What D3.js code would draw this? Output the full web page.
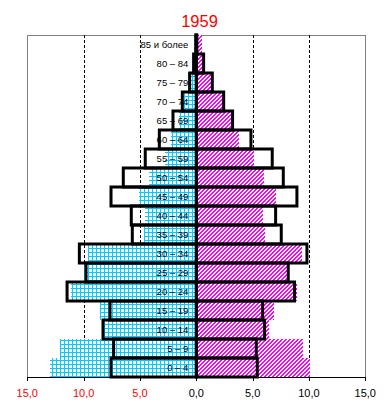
<!DOCTYPE html>
<html><head><meta charset="utf-8">
<script src="https://cdn.jsdelivr.net/npm/d3@7"></script>
<style>body{margin:0;background:#fff}svg{display:block}</style>
</head><body><svg id="c" width="392" height="414"></svg>
<script>
const ages = ["0 – 4","5 – 9","10 – 14","15 – 19","20 – 24","25 – 29","30 – 34","35 – 39","40 – 44","45 – 49","50 – 54","55 – 59","60 – 64","65 – 69","70 – 74","75 – 79","80 – 84","85 и более"];
const left1959  = [12.95,12.07,8.2,8.58,11.09,10.0,9.64,4.67,4.53,5.13,4.17,2.81,2.22,1.5,1.18,0.7,0.3,0.2];
const right1959 = [10.1,9.49,6.48,6.92,8.93,8.05,9.41,6.12,5.95,7.04,5.97,5.15,3.82,3.17,2.37,1.33,0.7,0.53];
const leftOutline  = [7.57,7.34,8.28,7.66,11.47,9.79,10.38,5.68,5.77,7.57,6.48,4.53,3.28,2.07,1.24,0.59,0.24,0.05];
const rightOutline = [5.41,5.32,6.06,5.89,8.72,8.16,9.82,7.54,7.04,8.93,7.72,6.74,4.85,3.22,2.43,1.42,0.65,0.05];
const ticks = [-15,-10,-5,0,5,10,15];
const tickLabels = ["15,0","10,0","5,0","0,0","5,0","10,0","15,0"];
const grid = [-10,-5,5,10];
const title = "1959";

const svg = d3.select("#c");
const L = 27.3, R = 365.3, T = 35, B = 377;
const x = d3.scaleLinear().domain([-15,15]).range([L,R]);
const y = d3.scaleBand().domain(ages.slice().reverse()).range([T,B]).padding(0);

const defs = svg.append("defs");
const pg = defs.append("pattern").attr("id","cy").attr("patternUnits","userSpaceOnUse")
  .attr("width",4).attr("height",4);
pg.append("rect").attr("width",4).attr("height",4).attr("fill","#fff");
pg.append("rect").attr("x",0).attr("y",0).attr("width",4).attr("height",1).attr("fill","#00CCFF");
pg.append("rect").attr("x",0).attr("y",0).attr("width",1).attr("height",4).attr("fill","#00CCFF");
const pm = defs.append("pattern").attr("id","mg").attr("patternUnits","userSpaceOnUse")
  .attr("width",4).attr("height",4);
pm.append("rect").attr("width",4).attr("height",4).attr("fill","#fff");
for (let i=0;i<4;i++) for (let j=0;j<4;j++) {
  if ((i+j)%4===0 || (i+j)%4===1) pm.append("rect").attr("x",i).attr("y",j).attr("width",1).attr("height",1).attr("fill","#FF00FF");
}

svg.append("text").attr("x",199.5).attr("y",26.5).attr("text-anchor","middle")
  .attr("font-family","Liberation Sans, Arial, sans-serif").attr("font-size",16.5).attr("fill","#FF0000").text(title);

// frame
svg.append("path").attr("d",`M${L},${B}V${T}H${R}V${B}`).attr("fill","none").attr("stroke","#808080").attr("stroke-width",1).attr("shape-rendering","crispEdges");

// gridlines
svg.append("g").selectAll("line").data(grid).join("line")
  .attr("x1",d=>Math.round(x(d))+0.5).attr("x2",d=>Math.round(x(d))+0.5)
  .attr("y1",T).attr("y2",B).attr("stroke","#000").attr("stroke-dasharray","3,2").attr("stroke-width",1);

const idx = d3.range(ages.length);
// pattern bars
svg.append("g").attr("shape-rendering","crispEdges").selectAll("rect").data(idx).join("rect")
  .attr("x",i=>x(-left1959[i])).attr("width",i=>x(0)-x(-left1959[i]))
  .attr("y",i=>y(ages[i])).attr("height",y.bandwidth()).attr("fill","url(#cy)");
svg.append("g").attr("shape-rendering","crispEdges").selectAll("rect").data(idx).join("rect")
  .attr("x",x(0)).attr("width",i=>x(right1959[i])-x(0))
  .attr("y",i=>y(ages[i])).attr("height",y.bandwidth()).attr("fill","url(#mg)");

// outline bars
const og = svg.append("g").attr("fill","none").attr("stroke","#000").attr("stroke-width",3);
og.selectAll("rect.l").data(idx).join("rect").attr("class","l")
  .attr("x",i=>x(-leftOutline[i])).attr("width",i=>x(0)-x(-leftOutline[i]))
  .attr("y",i=>y(ages[i])).attr("height",y.bandwidth());
og.selectAll("rect.r").data(idx).join("rect").attr("class","r")
  .attr("x",x(0)).attr("width",i=>x(rightOutline[i])-x(0))
  .attr("y",i=>y(ages[i])).attr("height",y.bandwidth());

// age labels
svg.append("g").selectAll("text").data(idx).join("text")
  .attr("x",x(0)-8).attr("y",i=>y(ages[i])+y.bandwidth()/2).attr("dy","0.35em")
  .attr("text-anchor","end").attr("font-family","Liberation Sans, Arial, sans-serif")
  .attr("font-size",9.5).attr("fill","#000").text(i=>ages[i]);

// axis
const ax = svg.append("g").attr("transform",`translate(0,${B})`);
ax.append("line").attr("x1",L).attr("x2",R).attr("y1",0.5).attr("y2",0.5).attr("stroke","#000");
ax.selectAll("line.t").data(ticks).join("line").attr("class","t")
  .attr("x1",d=>Math.round(x(d))+0.5).attr("x2",d=>Math.round(x(d))+0.5).attr("y1",0).attr("y2",4).attr("stroke","#000");
ax.selectAll("text").data(ticks).join("text")
  .attr("x",d=>x(d)).attr("y",20).attr("text-anchor","middle")
  .attr("font-family","Liberation Sans, Arial, sans-serif").attr("font-size",11)
  .attr("fill",(d,i)=>d<0?"#FF0000":"#000").text((d,i)=>tickLabels[i]);
</script></body></html>
